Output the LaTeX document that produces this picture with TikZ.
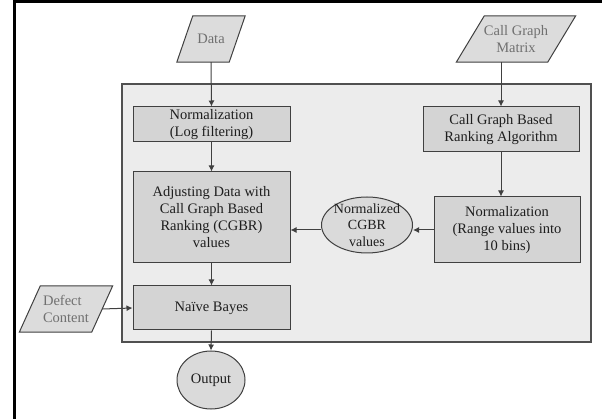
\documentclass[tikz,border=0pt]{standalone}
\usepackage{fontspec}
\setmainfont{Liberation Serif}
\usetikzlibrary{arrows.meta,backgrounds,shapes.geometric}
\definecolor{panelfill}{HTML}{ECECEC}
\definecolor{panelline}{HTML}{505050}
\definecolor{boxfill}{HTML}{D4D4D4}
\definecolor{parafill}{HTML}{DCDCDC}
\definecolor{ellfill}{HTML}{DADADA}
\definecolor{linec}{HTML}{404040}
\definecolor{textc}{HTML}{1E1E1E}
\definecolor{ptext}{HTML}{707070}
\begin{document}
\begin{tikzpicture}[x=1pt,y=-1pt,
  font=\fontsize{14.5}{17}\selectfont,
  stepbox/.style={draw=linec, fill=boxfill, line width=1pt, align=center, text=textc, inner sep=0pt},
  paratext/.style={text=ptext, align=center, inner sep=0pt},
  parashape/.style={draw=linec, fill=parafill, line width=1pt},
  ellbox/.style={ellipse, draw=linec, fill=ellfill, line width=1pt, inner sep=0pt, text=textc},
  arr/.style={draw=linec, line width=1pt, -{Latex[length=6pt,width=6pt]}}
]
\useasboundingbox (0,0) rectangle (602,419);
% outer frame (left and top only)
\draw[line width=3pt, black] (14,419) -- (14,2) -- (602,2);
% panel
\node[draw=panelline, fill=panelfill, line width=1.2pt, minimum width=469pt, minimum height=258pt, inner sep=0pt] (panel) at (356.5,213) {};

% input parallelograms (text nodes, shapes drawn on background)
\node[paratext, minimum width=52pt, minimum height=46pt] (data) at (211,39) {Data};
\node[paratext, minimum width=91pt, minimum height=46pt] (cgm) at (516,39) {Call Graph\\Matrix};
\node[paratext, align=left, minimum width=72pt, minimum height=46pt] (defect) at (66,309) {Defect\\Content};
\begin{scope}[on background layer]
\draw[parashape] ([xshift=8pt]data.north west) -- ([xshift=8pt]data.north east) -- ([xshift=-8pt]data.south east) -- ([xshift=-8pt]data.south west) -- cycle;
\draw[parashape] ([xshift=14pt]cgm.north west) -- ([xshift=14pt]cgm.north east) -- ([xshift=-14pt]cgm.south east) -- ([xshift=-14pt]cgm.south west) -- cycle;
\draw[parashape] ([xshift=10.5pt]defect.north west) -- ([xshift=10.5pt]defect.north east) -- ([xshift=-10.5pt]defect.south east) -- ([xshift=-10.5pt]defect.south west) -- cycle;
\end{scope}

% process boxes
\node[stepbox, minimum width=157pt, minimum height=35pt] (norm1) at (211.5,124.5) {Normalization\\(Log filtering)};
\node[stepbox, minimum width=157pt, minimum height=91pt] (adjust) at (211.5,217.5) {Adjusting Data with\\Call Graph Based\\Ranking (CGBR)\\values};
\node[stepbox, minimum width=157pt, minimum height=44pt] (naive) at (211.5,308) {Naïve Bayes};
\node[stepbox, minimum width=156pt, minimum height=45pt] (cgbra) at (501,129.5) {Call Graph Based\\Ranking Algorithm};
\node[stepbox, minimum width=146pt, minimum height=66pt] (norm2) at (507,230) {Normalization\\(Range values into\\10 bins)};

% ellipses
\node[ellbox, minimum width=91pt, minimum height=56pt] (ncgbr) at (367,225) {};
\node[align=center, inner sep=0pt, text=textc, font=\fontsize{14}{16.5}\selectfont] (ncgbrtext) at (ncgbr) {Normalized\\CGBR\\values};
\node[ellbox, minimum width=68pt, minimum height=58pt] (output) at (211,380) {Output};

% connectors
\draw[arr] (data.south) -- (norm1.north);
\draw[arr] (norm1.south) -- (adjust.north);
\draw[arr] (adjust.south) -- (naive.north);
\draw[arr] (naive.south) -- (output.north);
\draw[arr] (defect.east) -- (naive.west);
\draw[arr] (cgbra.north |- cgm.south) -- (cgbra.north);
\draw[arr] (cgbra.south) -- (cgbra.south |- norm2.north);
\draw[arr] (norm2.west) -- (ncgbr.east |- norm2.west);
\draw[arr] (ncgbr.west |- norm2.west) -- (adjust.east |- norm2.west);
\end{tikzpicture}
\end{document}
